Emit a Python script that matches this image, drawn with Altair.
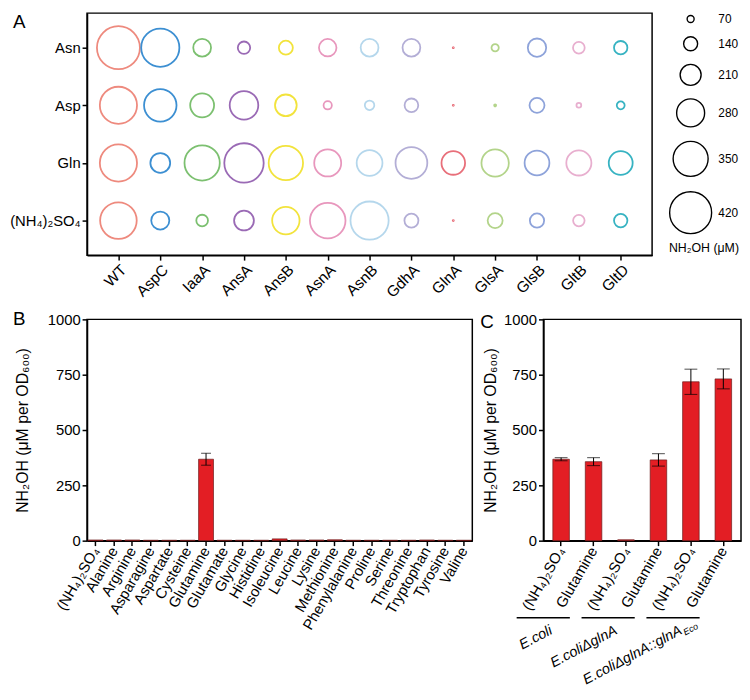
import altair as alt
import pandas as pd

FONT = "Liberation Sans"

# ---------------- Panel A data ----------------
genes = ["WT", "AspC", "IaaA", "AnsA", "AnsB", "AsnA", "AsnB",
         "GdhA", "GlnA", "GlsA", "GlsB", "GltB", "GltD"]
substrates = ["Asn", "Asp", "Gln", "(NH₄)₂SO₄"]
asn_vals = [430, 382, 178, 124, 140, 175, 178, 178, 10, 73, 184, 117, 134]
asp_vals = [372, 325, 239, 286, 217, 83, 95, 137, 10, 19, 150, 48, 79]
gln_vals = [372, 198, 353, 394, 344, 270, 258, 318, 236, 274, 248, 251, 239]
nh4_vals = [366, 181, 117, 198, 274, 356, 382, 140, 10, 150, 143, 115, 134]
gene_colors = ["#EE8A7E", "#3C8FD2", "#7CC070", "#9A6AB5", "#F2E33C", "#E897BD",
               "#B5D7EC", "#B3AED6", "#E86F7A", "#B3D48A", "#8EA3DA", "#E8AFCF", "#37B3C2"]
legend_values = [70, 140, 210, 280, 350, 420]

# ---------------- Panel B data ----------------
aminos = ["(NH₄)₂SO₄", "Alanine", "Arginine", "Asparagine", "Aspartate", "Cysteine",
          "Glutamine", "Glutamate", "Glycine", "Histidine", "Isoleucine", "Leucine",
          "Lysine", "Methionine", "Phenylalanine", "Proline", "Serine", "Threonine",
          "Tryptophan", "Tyrosine", "Valine"]
b_mean = [3, 3, 3, 2, 2, 2, 368, 2, 2, 2, 8, 3, 3, 4, 2, 2, 2, 2, 3, 2, 2]
b_sd = [0, 0, 0, 0, 0, 0, 27, 0, 0, 0, 0, 0, 0, 0, 0, 0, 0, 0, 0, 0, 0]

# ---------------- Panel C data ----------------
c_strain = ["E.coli", "E.coli", "E.coliΔglnA", "E.coliΔglnA",
            "E.coliΔglnA::glnA", "E.coliΔglnA::glnA"]
c_cond = ["(NH₄)₂SO₄", "Glutamine", "(NH₄)₂SO₄", "Glutamine", "(NH₄)₂SO₄", "Glutamine"]
c_mean = [368, 357, 4, 365, 718, 731]
c_sd = [7, 18, 0, 28, 57, 45]
groups = ["E.coli", "E.coliΔglnA", "E.coliΔglnA::glnA"]
group_sub = "Eco"

# ---------------- build tables ----------------
rows = []
for s, vals in zip(substrates, [asn_vals, asp_vals, gln_vals, nh4_vals]):
    for g, v in zip(genes, vals):
        rows.append({"gene": g, "sub": s, "v": v})
df_a = pd.DataFrame(rows)

df_b = pd.DataFrame({"aa": aminos, "m": b_mean, "sd": b_sd})

c_keys = [f"{i}|{c}" for i, c in enumerate(c_cond)]
df_c = pd.DataFrame({"key": c_keys, "m": c_mean, "sd": c_sd, "strain": c_strain})
df_g = pd.DataFrame({"g": groups, "a": c_keys[0::2], "b": c_keys[1::2]})
df_sub = pd.DataFrame({"b": [c_keys[5]], "t": [group_sub]})

RED = "#E31E24"
BAR_STROKE = "#6B1B1B"


def letter(ch, dx, dy):
    return alt.Chart(pd.DataFrame({"t": [ch]})).mark_text(
        fontSize=19, align="left", baseline="top", font=FONT, color="black"
    ).encode(x=alt.value(dx), y=alt.value(dy), text="t:N")


# ---------------- Panel A ----------------
WA, HA = 572, 245
bubbles = alt.Chart(df_a).mark_point(
    shape="circle", filled=False, strokeWidth=1.8, opacity=1
).encode(
    x=alt.X("gene:N", sort=genes, scale=alt.Scale(domain=genes, padding=0.75),
            axis=alt.Axis(title=None, labelAngle=-45, labelFontSize=15.5, labelPadding=2, tickSize=5)),
    y=alt.Y("sub:N", sort=substrates, scale=alt.Scale(domain=substrates, padding=0.6),
            axis=alt.Axis(title=None, labelFontSize=15, labelPadding=2, tickSize=5)),
    color=alt.Color("gene:N", scale=alt.Scale(domain=genes, range=gene_colors), legend=None),
    size=alt.Size("v:Q",
                  scale=alt.Scale(type="pow", exponent=2, domain=[0, 420], range=[0, 1806]),
                  legend=alt.Legend(values=legend_values, title="NH₂OH (μM)",
                                    titleOrient="bottom", titleAnchor="start",
                                    titleFontSize=12.5, titleFontWeight="normal",
                                    labelFontSize=12, symbolStrokeColor="black",
                                    symbolFillColor="transparent", symbolStrokeWidth=1.4,
                                    rowPadding=8, labelOffset=6, offset=17, titlePadding=6)),
)
chart_a = alt.layer(bubbles, letter("A", -75, 0)).properties(width=WA, height=HA)

# ---------------- Panel B ----------------
WB, HB = 390, 224
ax_y_common = dict(values=[0, 250, 500, 750, 1000], format="d", labelFontSize=15, titleFontSize=16,
                   titleFontWeight="normal", tickSize=5, labelPadding=2,
                   title="NH₂OH (μM per OD₆₀₀)")
xb = alt.X("aa:N", sort=aminos,
           scale=alt.Scale(domain=aminos, paddingInner=0.19, paddingOuter=0.06),
           axis=alt.Axis(title=None, labelAngle=-60, labelFontSize=15, tickSize=5, labelPadding=2))
yscale = alt.Scale(domain=[0, 1000])
base_b = alt.Chart(df_b)
bars_b = base_b.mark_bar(color=RED, stroke=BAR_STROKE, strokeWidth=0.7).encode(
    x=xb, y=alt.Y("m:Q", scale=yscale, axis=alt.Axis(titlePadding=17, **ax_y_common)))
err_b = base_b.transform_filter("datum.sd > 0").transform_calculate(
    lo="datum.m - datum.sd", hi="datum.m + datum.sd")
rule_b = err_b.mark_rule(color="black", strokeWidth=1).encode(
    x=alt.X("aa:N", sort=aminos), y="lo:Q", y2="hi:Q")
caphi_b = err_b.mark_tick(color="black", thickness=1, size=10).encode(
    x=alt.X("aa:N", sort=aminos), y="hi:Q")
caplo_b = err_b.mark_tick(color="black", thickness=1, size=10).encode(
    x=alt.X("aa:N", sort=aminos), y="lo:Q")
chart_b = alt.layer(bars_b, rule_b, caphi_b, caplo_b, letter("B", -75, -9)).properties(
    width=WB, height=HB)

# ---------------- Panel C ----------------
WC, HC = 200, 224
xc_scale = alt.Scale(domain=c_keys, paddingInner=0.49, paddingOuter=0.29)
xc = alt.X("key:N", sort=c_keys, scale=xc_scale,
           axis=alt.Axis(title=None, labelAngle=-60, labelFontSize=15, tickSize=5, labelPadding=2,
                         labelExpr="split(datum.value, '|')[1]"))
base_c = alt.Chart(df_c)
bars_c = base_c.mark_bar(color=RED, stroke=BAR_STROKE, strokeWidth=0.7).encode(
    x=xc, y=alt.Y("m:Q", scale=yscale, axis=alt.Axis(titlePadding=5, **ax_y_common)))
err_c = base_c.transform_filter("datum.sd > 0").transform_calculate(
    lo="datum.m - datum.sd", hi="datum.m + datum.sd")
rule_c = err_c.mark_rule(color="black", strokeWidth=1).encode(
    x=alt.X("key:N", sort=c_keys), y="lo:Q", y2="hi:Q")
caphi_c = err_c.mark_tick(color="black", thickness=1, size=13).encode(
    x=alt.X("key:N", sort=c_keys), y="hi:Q")
caplo_c = err_c.mark_tick(color="black", thickness=1, size=13).encode(
    x=alt.X("key:N", sort=c_keys), y="lo:Q")
LINE_Y = HC + 78
glines = alt.Chart(df_g).mark_rule(color="black", strokeWidth=1.5, xOffset=-45, x2Offset=-24).encode(
    x=alt.X("a:N"), x2=alt.X2("b"), y=alt.value(LINE_Y))
gtext = alt.Chart(df_g).mark_text(angle=332, align="right", baseline="top", fontStyle="italic",
                                  fontSize=14.5, font=FONT, xOffset=-46, color="black").encode(
    x=alt.X("b:N"), y=alt.value(LINE_Y + 6), text="g:N")
gsub = alt.Chart(df_sub).mark_text(angle=332, align="left", baseline="top", fontStyle="italic",
                                   fontSize=9, font=FONT, xOffset=-46, dx=1, dy=7, color="black").encode(
    x=alt.X("b:N"), y=alt.value(LINE_Y + 6), text="t:N")
chart_c = alt.layer(bars_c, rule_c, caphi_c, caplo_c, glines, gtext, gsub,
                    letter("C", -64, -6)).properties(width=WC, height=HC)

bottom = alt.hconcat(chart_b, chart_c, spacing=6)
chart = alt.vconcat(chart_a, bottom, spacing=8).resolve_legend(
    size="independent", color="independent"
).resolve_scale(color="independent", size="independent").properties(
    padding={"left": 0, "top": 0, "right": 0, "bottom": 0}
).configure(font=FONT).configure_view(
    stroke="black", strokeWidth=1.5
).configure_axis(
    domainColor="black", domainWidth=1.5, tickColor="black", tickWidth=1.5,
    labelColor="black", titleColor="black", grid=False, labelFont=FONT, titleFont=FONT
).configure_legend(labelFont=FONT, titleFont=FONT, labelColor="black", titleColor="black")

chart.save("out.html", embed_options={"renderer": "svg", "actions": False})
